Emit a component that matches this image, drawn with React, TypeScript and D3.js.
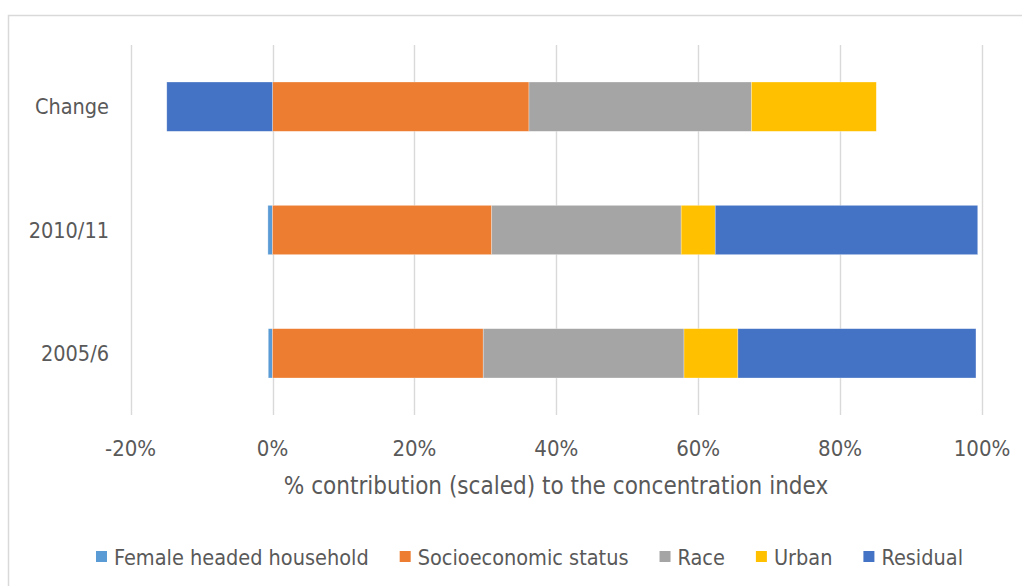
import React, { useEffect, useRef } from "react";
import * as d3 from "d3";

// Periods shown on the vertical axis (top to bottom)
const periods = ["Change", "2010/11", "2005/6"];

// Series, in stacking order
const seriesNames = ["Female headed household", "Socioeconomic status", "Race", "Urban", "Residual"];
const seriesColors = ["#5b9bd5", "#ed7d31", "#a5a5a5", "#ffc000", "#4472c4"];

// % contribution of each factor, per period
const femaleHeaded = [0, -0.65, -0.6];
const socioeconomic = [36.15, 30.9, 29.7];
const race = [31.35, 26.7, 28.3];
const urban = [17.6, 4.8, 7.6];
const residual = [-14.9, 37.0, 33.55];

const xTicks = [-20, 0, 20, 40, 60, 80, 100];
const xTitle = "% contribution (scaled) to the concentration index";

const W = 1022;
const H = 586;
const FONT = "'Liberation Sans Narrow', 'DejaVu Sans Condensed', sans-serif";
const TEXT = "#595959";

export default function App() {
  const ref = useRef<SVGSVGElement | null>(null);

  useEffect(() => {
    const svg = d3.select(ref.current);
    svg.selectAll("*").remove();

    const rows = periods.map((p, i) => ({
      period: p,
      [seriesNames[0]]: femaleHeaded[i],
      [seriesNames[1]]: socioeconomic[i],
      [seriesNames[2]]: race[i],
      [seriesNames[3]]: urban[i],
      [seriesNames[4]]: residual[i],
    }));

    const x = d3.scaleLinear().domain([-20, 100]).range([130.6, 982]);
    const y = d3.scaleBand<string>().domain(periods).range([45, 415]).paddingInner(0.6).paddingOuter(0.3);
    const color = d3.scaleOrdinal<string, string>().domain(seriesNames).range(seriesColors);

    // chart frame
    svg.append("rect")
      .attr("x", 8.5).attr("y", 15.5).attr("width", 1100).attr("height", 700)
      .attr("fill", "#fff").attr("stroke", "#d9d9d9").attr("stroke-width", 1.5);

    // vertical gridlines
    svg.append("g").selectAll("line").data(xTicks).join("line")
      .attr("x1", (d) => Math.round(x(d)) + 0.5).attr("x2", (d) => Math.round(x(d)) + 0.5)
      .attr("y1", 45).attr("y2", 415)
      .attr("stroke", "#d9d9d9").attr("stroke-width", 1.4);

    const stacked = d3.stack<any>().keys(seriesNames).offset(d3.stackOffsetDiverging)(rows);

    svg.append("g").selectAll("g").data(stacked).join("g")
      .attr("fill", (s) => color(s.key))
      .selectAll("rect").data((s) => s).join("rect")
      .attr("x", (d) => x(Math.min(d[0], d[1])))
      .attr("width", (d) => Math.abs(x(d[1]) - x(d[0])))
      .attr("y", (d) => y(d.data.period)!)
      .attr("height", y.bandwidth())
      .attr("stroke", "#fff").attr("stroke-opacity", 0.5).attr("stroke-width", 0.6);

    // category labels
    svg.append("g").selectAll("text").data(periods).join("text")
      .attr("x", 109).attr("y", (d) => y(d)! + y.bandwidth() / 2)
      .attr("text-anchor", "end").attr("dominant-baseline", "central")
      .attr("font-family", FONT).attr("font-size", 21.5).attr("fill", TEXT)
      .text((d) => d);

    // x tick labels
    svg.append("g").selectAll("text").data(xTicks).join("text")
      .attr("x", (d) => x(d)).attr("y", 448)
      .attr("text-anchor", "middle").attr("dominant-baseline", "central")
      .attr("font-family", FONT).attr("font-size", 22).attr("fill", TEXT)
      .text((d) => `${d}%`);

    // axis title
    svg.append("text")
      .attr("x", 556).attr("y", 486)
      .attr("text-anchor", "middle").attr("dominant-baseline", "central")
      .attr("font-family", FONT).attr("font-size", 24).attr("fill", TEXT)
      .text(xTitle);

    // legend, laid out from measured text widths and centred
    const legend = svg.append("g");
    const items = legend.selectAll("g").data(seriesNames).join("g");
    items.append("rect").attr("width", 11).attr("height", 11).attr("y", 551).attr("fill", (d) => color(d));
    const labels = items.append("text")
      .attr("x", 18).attr("y", 557).attr("dominant-baseline", "central")
      .attr("font-family", FONT).attr("font-size", 21.5).attr("fill", TEXT)
      .text((d) => d);
    const widths: number[] = [];
    labels.each(function () { widths.push((this as SVGTextElement).getComputedTextLength()); });
    const gap = 31;
    const itemW = widths.map((w) => 18 + w);
    const total = d3.sum(itemW) + gap * (itemW.length - 1);
    let cx = 529.5 - total / 2;
    items.each(function (_, i) {
      d3.select(this).attr("transform", `translate(${cx},0)`);
      cx += itemW[i] + gap;
    });
  }, []);

  return (
    <svg ref={ref} width={W} height={H} style={{ display: "block", position: "absolute", left: 0, top: 0 }} />
  );
}
